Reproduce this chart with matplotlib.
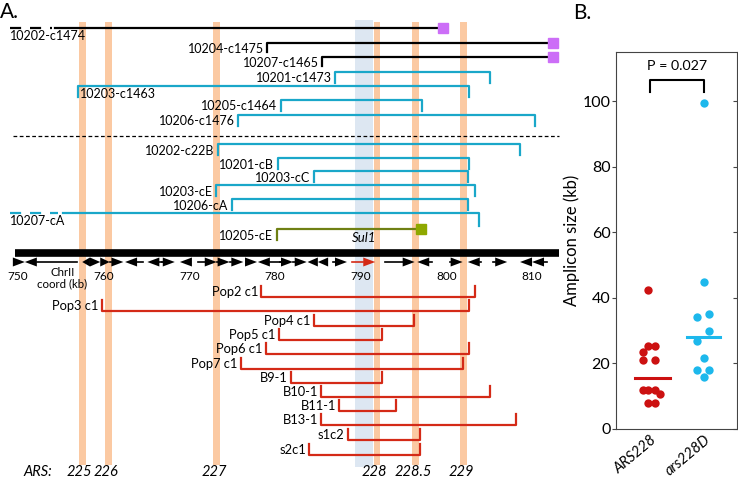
import matplotlib
matplotlib.use('Agg')
import matplotlib.pyplot as plt

plt.rcParams['font.family'] = ['Lato', 'DejaVu Sans']

# ---- panel A data (ChrII coordinates, kb) ----
ars_names = ['225', '226', '227', '228', '228.5', '229']
ars_kb = [757.5, 760.6, 773.2, 791.9, 796.4, 802.0]
sul1_kb = [789.3, 791.4]

blk_names = ['10202-c1474', '10204-c1475', '10207-c1465']
blk_start = [754.3, 779.1, 785.5]
blk_end = [799.6, 812.5, 812.5]

cy1_names = ['10201-c1473', '10203-c1463', '10205-c1464', '10206-c1476']
cy1_start = [787.0, 757.0, 780.7, 775.7]
cy1_end = [805.1, 802.7, 797.1, 810.4]

cy2_names = ['10202-c22B', '10201-cB', '10203-cC', '10203-cE', '10206-cA', '10207-cA']
cy2_start = [773.3, 780.3, 784.5, 773.1, 775.0, 755.3]
cy2_end = [808.6, 802.6, 802.5, 803.3, 802.5, 803.8]

grn_name = '10205-cE'
grn_start = 780.2
grn_end = 797.0

red_names = ['Pop2 c1', 'Pop3 c1', 'Pop4 c1', 'Pop5 c1', 'Pop6 c1', 'Pop7 c1',
             'B9-1', 'B10-1', 'B11-1', 'B13-1', 's1c2', 's2c1']
red_start = [778.4, 759.8, 784.5, 780.5, 778.9, 776.0, 781.9, 785.4, 787.5, 785.4, 788.5, 784.0]
red_end = [803.3, 802.6, 796.2, 792.5, 802.7, 801.9, 792.5, 805.1, 794.1, 808.1, 796.9, 796.9]

gene_start = [749.4, 750.8, 757.5, 758.4, 759.6, 760.7, 762.5, 765.1, 766.8, 768.9,
              771.0, 773.2, 774.7, 776.5, 778.0, 780.6, 782.1, 783.8, 785.0, 786.8,
              789.0, 792.8, 796.6, 800.4, 802.5, 805.4, 808.6, 810.0]
gene_end = [750.8, 756.9, 758.4, 759.6, 760.7, 762.3, 764.6, 766.8, 768.3, 770.3,
            773.2, 774.7, 776.3, 777.9, 780.6, 782.1, 783.7, 785.0, 786.2, 788.4,
            791.7, 796.3, 798.3, 801.9, 804.1, 807.1, 810.0, 811.7]
gene_dir = [1, -1, -1, 1, 1, 1, -1, -1, 1, -1,
            1, 1, 1, 1, -1, 1, 1, -1, -1, 1,
            1, 1, -1, 1, -1, 1, -1, -1]
sul1_gene = 20
chr_ticks = [750, 760, 770, 780, 790, 800, 810]

# ---- panel B data ----
groups = ['ARS228', 'ars228D']
ars228_size = [42.4, 25.3, 25.3, 23.5, 21.0, 21.0, 11.8, 11.8, 11.8, 10.8, 8.0, 8.0]
ars228d_size = [99.3, 44.9, 35.0, 34.2, 29.9, 26.9, 21.8, 17.9, 17.9, 15.9]
group_line = [15.6, 28.0]
p_label = 'P = 0.027'

# layout (rows in pixel units of panel A)
blk_y = [28, 43, 57]
cy1_y = [72, 86, 100, 115]
cy2_y = [144, 158, 171, 185, 199, 213]
grn_y = 229
red_y = [297, 311, 326, 340, 354, 369, 383, 397, 411, 425, 440, 455]
ars228_dx = [-0.04, -0.04, 0.09, -0.13, -0.13, 0.09, -0.13, -0.04, 0.09, 0.19, -0.04, 0.09]
ars228d_dx = [0, 0, 0.09, -0.13, 0.09, -0.13, 0, -0.13, 0.09, 0]

BLK = 'black'
CYAN = '#1aa7c9'
RED = '#d42a17'
OLIVE = '#6f8013'
PURPLE = '#cc6ef7'
ORANGE = '#fbc9a2'
BLUE = '#dde7f2'
FS = 9.0
LW = 1.6
H = 11

fig = plt.figure(figsize=(7.38, 4.79), dpi=100)
ax = fig.add_axes([0, 0, 1, 1])
ax.set_xlim(747.9, 834.04)
ax.set_ylim(479, 0)
ax.axis('off')

# shaded bands
ax.axvspan(sul1_kb[0], sul1_kb[1], ymin=1 - 467 / 479, ymax=1 - 20 / 479, color=BLUE, lw=0, zorder=0)
for k in ars_kb:
    ax.axvspan(k - 0.4, k + 0.4, ymin=1 - 465 / 479, ymax=1 - 22 / 479, color=ORANGE, lw=0, zorder=0)

# black constructs
for i in range(3):
    s, e, y = blk_start[i], blk_end[i], blk_y[i]
    if i == 0:
        ax.plot([s, e], [y, y], color=BLK, lw=LW)
        ax.plot([749.1, s - 0.3], [y, y], color=BLK, lw=LW, ls=(0, (5, 4)))
        ax.text(749.1, y + 8, blk_names[i], ha='left', va='center', fontsize=FS)
    else:
        ax.plot([s, s, e], [y + 9, y, y], color=BLK, lw=LW)
        ax.text(s - 0.4, y + 6, blk_names[i], ha='right', va='center', fontsize=FS)
    ax.plot(e, y, marker='s', ms=7.5, color=PURPLE, mec=PURPLE)

# cyan constructs, upper group
for i in range(4):
    s, e, y = cy1_start[i], cy1_end[i], cy1_y[i]
    ax.plot([s, s, e, e], [y + H, y, y, y + H], color=CYAN, lw=LW)
    if cy1_names[i] == '10203-c1463':
        ax.text(s + 0.25, y + 8, cy1_names[i], ha='left', va='center', fontsize=FS)
    else:
        ax.text(s - 0.4, y + 6, cy1_names[i], ha='right', va='center', fontsize=FS)

ax.plot([749.4, 813.15], [136, 136], color=BLK, lw=0.9, ls=(0, (3, 2)))

# cyan constructs, lower group
for i in range(6):
    s, e, y = cy2_start[i], cy2_end[i], cy2_y[i]
    if cy2_names[i] == '10207-cA':
        ax.plot([s, e, e], [y, y, y + 13], color=CYAN, lw=LW)
        ax.plot([749.1, s - 0.6], [y, y], color=CYAN, lw=LW, ls=(0, (5, 4)))
        ax.text(749.1, y + 8, cy2_names[i], ha='left', va='center', fontsize=FS)
    else:
        ax.plot([s, s, e, e], [y + H, y, y, y + H], color=CYAN, lw=LW)
        ax.text(s - 0.4, y + 7, cy2_names[i], ha='right', va='center', fontsize=FS)

# green construct
ax.plot([grn_start, grn_start, grn_end], [grn_y + H, grn_y, grn_y], color=OLIVE, lw=LW)
ax.plot(grn_end, grn_y, marker='s', ms=7.5, color='#8ea800', mec='#8ea800')
ax.text(grn_start - 0.4, grn_y + 7, grn_name, ha='right', va='center', fontsize=FS)
ax.text(sum(sul1_kb) / 2, 238, 'Sul1', ha='center', va='center', fontsize=9.5, style='italic')

# chromosome
ax.plot([749.65, 813.15], [253, 253], color=BLK, lw=5.5, solid_capstyle='butt')
gy = 262
for s, e, d, i in zip(gene_start, gene_end, gene_dir, range(len(gene_dir))):
    c = RED if i == sul1_gene else BLK
    hl = min(1.4, e - s)
    if d > 0:
        tip, base, tail = e, e - hl, s
    else:
        tip, base, tail = s, s + hl, e
    if abs(tail - base) > 0.05:
        ax.plot([tail, base], [gy, gy], color=c, lw=1.2)
    ax.fill([base, base, tip], [gy - 4.5, gy + 4.5, gy], color=c, lw=0)
for t in chr_ticks:
    ax.text(t, 276, str(t), ha='center', va='center', fontsize=8.5)
ax.text(755.2, 278, 'ChrII\ncoord (kb)', ha='center', va='center', fontsize=8.3, linespacing=1.05)

# red amplicons
for i in range(len(red_names)):
    s, e, y = red_start[i], red_end[i], red_y[i]
    ax.plot([s, s, e, e], [y - H, y, y, y - H], color=RED, lw=LW)
    ax.text(s - 0.4, y - 5, red_names[i], ha='right', va='center', fontsize=9.3)

# ARS labels
ax.text(752.3, 472, 'ARS:', ha='center', va='center', fontsize=10.5, style='italic')
for k, n in zip(ars_kb, ars_names):
    ax.text(k - 0.3, 472, n, ha='center', va='center', fontsize=10.5, style='italic')

fig.text(0.0, 0.975, 'A.', fontsize=15, ha='left', va='center')
fig.text(0.776, 0.972, 'B.', fontsize=15, ha='left', va='center')

# ---- panel B ----
bx = fig.add_axes([616 / 738, 1 - 429 / 479, 121 / 738, 377 / 479])
bx.set_xlim(0.37, 2.61)
bx.set_ylim(0, 115)
bx.scatter([1 + d for d in ars228_dx], ars228_size, s=36, color='#cc1111', lw=0, zorder=3)
bx.scatter([2 + d for d in ars228d_dx], ars228d_size, s=36, color='#1db8ec', lw=0, zorder=3)
bx.plot([0.72, 1.37], [group_line[0]] * 2, color='#cc1111', lw=2.2)
bx.plot([1.69, 2.3], [group_line[1]] * 2, color='#1db8ec', lw=2.2)
bx.plot([1, 1, 2, 2], [102.9, 106.4, 106.4, 102.9], color=BLK, lw=1.5)
bx.text(1.5, 110.8, p_label, ha='center', va='center', fontsize=10.3)
bx.set_yticks([0, 20, 40, 60, 80, 100])
bx.tick_params(axis='y', direction='out', length=3, labelsize=11.5, pad=1, color='#444444')
bx.set_xticks([1, 2])
bx.set_xticklabels(groups, rotation=40, ha='right', rotation_mode='anchor', style='italic', fontsize=10.5)
bx.tick_params(axis='x', length=0, pad=3)
bx.set_ylabel('Amplicon size (kb)', fontsize=12, labelpad=2)
for sp in bx.spines.values():
    sp.set_color('#444444')
tw = bx.twinx()
tw.set_ylim(0, 115)
tw.set_yticks([0, 20, 40, 60, 80, 100])
tw.tick_params(axis='y', direction='in', length=3, labelright=False, color='#444444')
for sp in tw.spines.values():
    sp.set_visible(False)

fig.savefig('out.png', dpi=100)
